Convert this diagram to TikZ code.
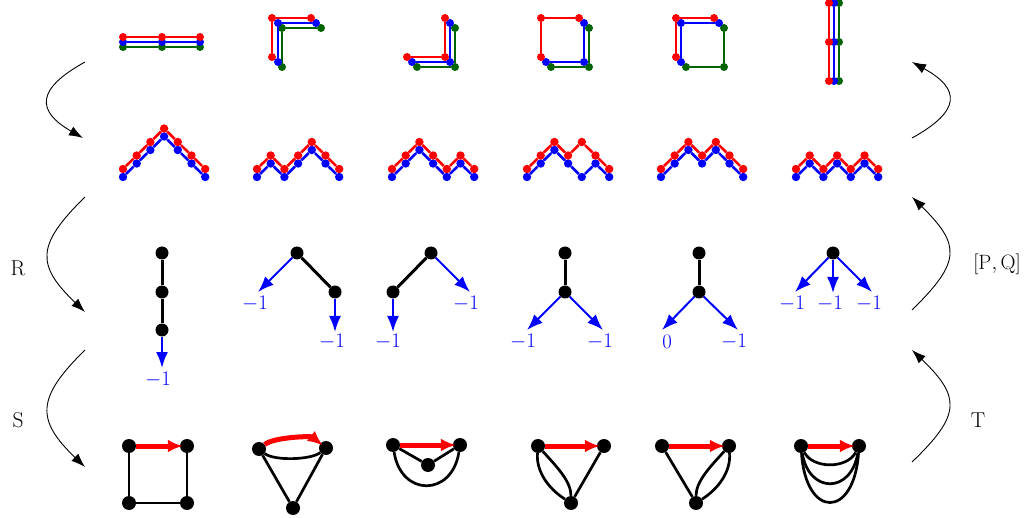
\documentclass[tikz,border=0pt]{standalone}
\usetikzlibrary{arrows.meta}
\definecolor{dgreen}{RGB}{0,100,0}
\newcommand\mytpath[5]{%
  \node[tdot=#2] (#1a) at (#3) {};
  \node[tdot=#2] (#1b) at (#4) {};
  \node[tdot=#2] (#1c) at (#5) {};
  \draw[tline=#2] (#1a) -- (#1b) -- (#1c);}
\newcommand\mydyck[5]{%
  \foreach \h [count=\i from 0] in {#5} {
    \node[pdot=#2] (#1-\i) at ({#3+13.7*\i},{#4-13.5*\h}) {};
  }
  \draw[pline=#2] (#1-0) -- (#1-1) -- (#1-2) -- (#1-3) -- (#1-4) -- (#1-5) -- (#1-6);}
\begin{document}
\begin{tikzpicture}[x=1pt,y=-1pt,
  tdot/.style={circle,inner sep=0pt,minimum size=8pt,fill=#1},
  pdot/.style={circle,inner sep=0pt,minimum size=8.4pt,fill=#1},
  tline/.style={draw=#1,line width=1.6pt},
  pline/.style={draw=#1,line width=2.6pt},
  tnode/.style={circle,fill=black,inner sep=0pt,minimum size=13pt},
  gnode/.style={circle,fill=black,inner sep=0pt,minimum size=14pt},
  tedge/.style={line width=3pt},
  gedge/.style={line width=2.7pt},
  barrow/.style={draw=blue,line width=2pt,-{Latex[length=16pt,width=12pt]}},
  rarrow/.style={draw=red,line width=5pt,shorten >=-3pt,-{Latex[length=15pt,width=13pt]}},
  lab/.style={text=blue,inner sep=0pt,font=\fontsize{22}{26}\selectfont},
  flow/.style={line width=0.9pt,-{Latex[length=14pt,width=10pt]}},
  side/.style={inner sep=0pt,font=\fontsize{21.5}{25}\selectfont}]
\useasboundingbox (0,0) rectangle (1030,518);

% ---------- top row ----------
\mytpath{c1g}{dgreen}{123,47}{162,47}{200,47}
\mytpath{c1b}{blue}{123,42}{162,42}{200,42}
\mytpath{c1r}{red}{123,37}{162,37}{200,37}

\mytpath{c2g}{dgreen}{282,67}{282,28}{321,28}
\mytpath{c2b}{blue}{278,62}{278,23}{316,23}
\mytpath{c2r}{red}{272,57}{272,18}{311,18}

\mytpath{c3g}{dgreen}{455,28}{455,67}{417,67}
\mytpath{c3b}{blue}{450,23}{450,62}{412,62}
\mytpath{c3r}{red}{445,18}{445,57}{407,57}

\mytpath{c4g}{dgreen}{551,67}{589,67}{589,28}
\mytpath{c4b}{blue}{546,62}{584,62}{584,23}
\mytpath{c4r}{red}{541,57}{541,18}{579,18}

\mytpath{c5g}{dgreen}{686,67}{724,67}{724,28}
\mytpath{c5b}{blue}{681,62}{681,23}{719,23}
\mytpath{c5r}{red}{676,57}{676,18}{714,18}

\mytpath{c6g}{dgreen}{839,3}{839,42}{839,81}
\mytpath{c6b}{blue}{834,3}{834,42}{834,81}
\mytpath{c6r}{red}{829,3}{829,42}{829,81}

% ---------- second row ----------
\mydyck{d1b}{blue}{123}{177}{0,1,2,3,2,1,0}
\mydyck{d1r}{red}{123}{169}{0,1,2,3,2,1,0}
\mydyck{d2b}{blue}{257}{177}{0,1,0,1,2,1,0}
\mydyck{d2r}{red}{257}{169}{0,1,0,1,2,1,0}
\mydyck{d3b}{blue}{392}{177}{0,1,2,1,0,1,0}
\mydyck{d3r}{red}{392}{169}{0,1,2,1,0,1,0}
\mydyck{d4b}{blue}{527}{177}{0,1,2,1,0,1,0}
\mydyck{d4r}{red}{527}{169}{0,1,2,1,2,1,0}
\mydyck{d5b}{blue}{661}{177}{0,1,2,1,2,1,0}
\mydyck{d5r}{red}{661}{169}{0,1,2,1,2,1,0}
\mydyck{d6b}{blue}{796}{177}{0,1,0,1,0,1,0}
\mydyck{d6r}{red}{796}{169}{0,1,0,1,0,1,0}

% ---------- third row: trees ----------
\node[tnode] (t1a) at (162,253) {};
\node[tnode] (t1b) at (162,292) {};
\node[tnode] (t1c) at (162,330) {};
\coordinate (t1e) at (162,368);
\draw[tedge] (t1a) -- (t1b) -- (t1c);
\draw[barrow] (t1c) -- (t1e);
\node[lab] (l1) at (158,380) {$-1$};

\node[tnode] (t2a) at (297,253) {};
\node[tnode] (t2b) at (335,292) {};
\coordinate (t2e1) at (258,292);
\coordinate (t2e2) at (335,332);
\draw[tedge] (t2a) -- (t2b);
\draw[barrow] (t2a) -- (t2e1);
\draw[barrow] (t2b) -- (t2e2);
\node[lab] (l2a) at (255,304) {$-1$};
\node[lab] (l2b) at (332,342) {$-1$};

\node[tnode] (t3a) at (431,253) {};
\node[tnode] (t3b) at (393,292) {};
\coordinate (t3e1) at (470,292);
\coordinate (t3e2) at (393,332);
\draw[tedge] (t3a) -- (t3b);
\draw[barrow] (t3a) -- (t3e1);
\draw[barrow] (t3b) -- (t3e2);
\node[lab] (l3a) at (466,304) {$-1$};
\node[lab] (l3b) at (388,342) {$-1$};

\node[tnode] (t4a) at (565,253) {};
\node[tnode] (t4b) at (565,292) {};
\coordinate (t4e1) at (527,330);
\coordinate (t4e2) at (603,330);
\draw[tedge] (t4a) -- (t4b);
\draw[barrow] (t4b) -- (t4e1);
\draw[barrow] (t4b) -- (t4e2);
\node[lab] (l4a) at (523,342) {$-1$};
\node[lab] (l4b) at (600,342) {$-1$};

\node[tnode] (t5a) at (699,253) {};
\node[tnode] (t5b) at (699,292) {};
\coordinate (t5e1) at (662,330);
\coordinate (t5e2) at (738,330);
\draw[tedge] (t5a) -- (t5b);
\draw[barrow] (t5b) -- (t5e1);
\draw[barrow] (t5b) -- (t5e2);
\node[lab] (l5a) at (667,342) {$0$};
\node[lab] (l5b) at (734,342) {$-1$};

\node[tnode] (t6a) at (833,253) {};
\coordinate (t6e1) at (795,292);
\coordinate (t6e2) at (833,293);
\coordinate (t6e3) at (872,292);
\draw[barrow] (t6a) -- (t6e1);
\draw[barrow] (t6a) -- (t6e2);
\draw[barrow] (t6a) -- (t6e3);
\node[lab] (l6a) at (792,304) {$-1$};
\node[lab] (l6b) at (830,304) {$-1$};
\node[lab] (l6c) at (869,304) {$-1$};

% ---------- bottom row: graphs ----------
\node[gnode] (g1a) at (129,446) {};
\node[gnode] (g1b) at (187,446) {};
\node[gnode] (g1c) at (129,503) {};
\node[gnode] (g1d) at (187,503) {};
\draw[gedge] (g1a) -- (g1c) -- (g1d) -- (g1b);
\draw[rarrow] (g1a) -- (g1b);

\node[gnode] (g2a) at (259,449) {};
\node[gnode] (g2b) at (326,448) {};
\node[gnode] (g2c) at (293,508) {};
\draw[gedge] (g2a) -- (g2c) -- (g2b);
\draw[gedge] (g2a) .. controls +(15,12) and +(-15,12) .. (g2b);
\draw[rarrow] (g2a) .. controls +(15,-12) and +(-15,-12) .. (g2b);

\node[gnode] (g3a) at (393,445) {};
\node[gnode] (g3b) at (460,445) {};
\node[gnode] (g3c) at (428,465) {};
\draw[gedge] (g3a) -- (g3c) -- (g3b);
\draw[gedge] (g3a) .. controls +(8,52) and +(-8,52) .. (g3b);
\draw[rarrow] (g3a) -- (g3b);

\node[gnode] (g4a) at (538,446) {};
\node[gnode] (g4b) at (604,446) {};
\node[gnode] (g4c) at (571,503) {};
\draw[gedge] (g4b) -- (g4c);
\draw[gedge] (g4a) .. controls +(18,20) and +(0,-22) .. (g4c);
\draw[gedge] (g4a) .. controls +(-2,26) and +(-22,-14) .. (g4c);
\draw[rarrow] (g4a) -- (g4b);

\node[gnode] (g5a) at (662,446) {};
\node[gnode] (g5b) at (729,446) {};
\node[gnode] (g5c) at (696,503) {};
\draw[gedge] (g5a) -- (g5c);
\draw[gedge] (g5b) .. controls +(-18,20) and +(0,-22) .. (g5c);
\draw[gedge] (g5b) .. controls +(2,26) and +(22,-14) .. (g5c);
\draw[rarrow] (g5a) -- (g5b);

\node[gnode] (g6a) at (801,446) {};
\node[gnode] (g6b) at (859,446) {};
\draw[gedge] (g6a) .. controls +(12,23) and +(-12,23) .. (g6b);
\draw[gedge] (g6a) .. controls +(8,48) and +(-8,48) .. (g6b);
\draw[gedge] (g6a) .. controls +(5,73) and +(-5,73) .. (g6b);
\draw[rarrow] (g6a) -- (g6b);

% ---------- side arrows ----------
\coordinate (L1s) at (85,62);   \coordinate (L1e) at (83,138);
\coordinate (L2s) at (85,197);  \coordinate (L2e) at (85,312);
\coordinate (L3s) at (85,350);  \coordinate (L3e) at (85,467);
\draw[flow] (L1s) .. controls (36,89) and (36,111) .. (L1e);
\draw[flow] (L2s) .. controls (36,245) and (36,265) .. (L2e);
\draw[flow] (L3s) .. controls (36,398) and (36,420) .. (L3e);

\coordinate (R1s) at (912,138); \coordinate (R1e) at (912,62);
\coordinate (R2s) at (912,310); \coordinate (R2e) at (912,197);
\coordinate (R3s) at (912,462); \coordinate (R3e) at (912,350);
\draw[flow] (R1s) .. controls (961,111) and (961,89) .. (R1e);
\draw[flow] (R2s) .. controls (961,262) and (961,245) .. (R2e);
\draw[flow] (R3s) .. controls (961,415) and (961,397) .. (R3e);

\node[side] (labR) at (18,268) {R};
\node[side] (labS) at (18,420) {S};
\node[side] (labPQ) at (997,264) {$[\mathrm{P},\mathrm{Q}]$};
\node[side] (labT) at (978,420) {T};
\end{tikzpicture}
\end{document}
